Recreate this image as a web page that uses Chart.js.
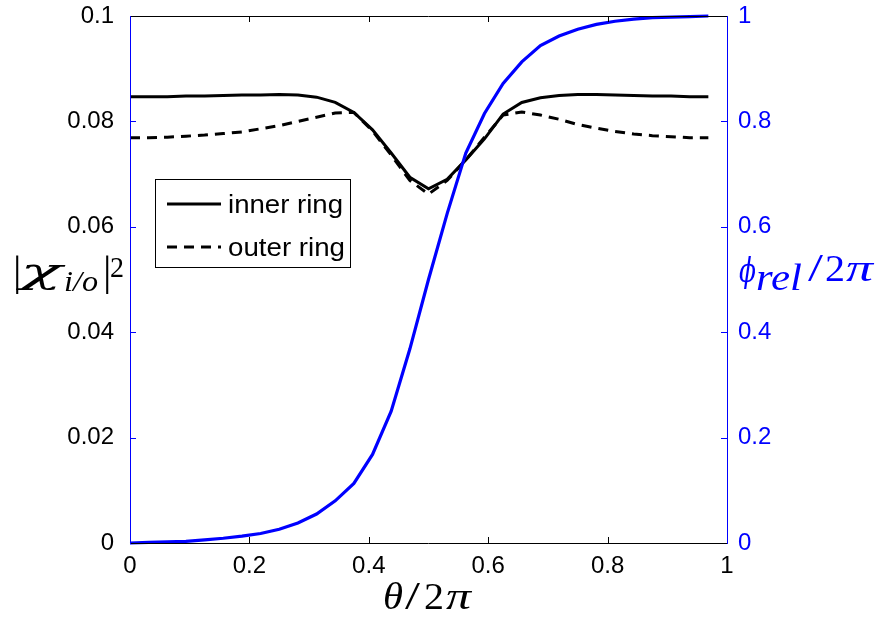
<!DOCTYPE html>
<html>
<head>
<meta charset="utf-8">
<script src="https://cdn.jsdelivr.net/npm/chart.js@4"></script>
<style>
  body { margin: 0; background: #fff; }
  canvas { display: block; }
</style>
</head>
<body>
<canvas id="myChart" width="881" height="622"></canvas>
<script>
// sample points along theta/2pi
const thetas = [0, 0.03125, 0.0625, 0.09375, 0.125, 0.15625, 0.1875, 0.21875,
  0.25, 0.28125, 0.3125, 0.34375, 0.375, 0.40625, 0.4375, 0.46875,
  0.5, 0.53125, 0.5625, 0.59375, 0.625, 0.65625, 0.6875, 0.71875,
  0.75, 0.78125, 0.8125, 0.84375, 0.875, 0.90625, 0.9375, 0.96875];

// |chi|^2, left axis
const innerRing = [0.0847, 0.0847, 0.0847, 0.0848, 0.0848, 0.0849, 0.0850, 0.0850,
  0.0851, 0.0850, 0.0846, 0.0836, 0.0817, 0.0784, 0.0740, 0.0694,
  0.0672, 0.0690, 0.0727, 0.0767, 0.0814, 0.0836, 0.0845, 0.0849,
  0.0851, 0.0851, 0.0850, 0.0849, 0.0848, 0.0848, 0.0847, 0.0847];
const outerRing = [0.0769, 0.0769, 0.0770, 0.0772, 0.0774, 0.0777, 0.0780, 0.0786,
  0.0792, 0.0800, 0.0808, 0.0816, 0.0817, 0.0782, 0.0736, 0.0688,
  0.0662, 0.0688, 0.0727, 0.0770, 0.0812, 0.0818, 0.0812, 0.0804,
  0.0794, 0.0787, 0.0781, 0.0776, 0.0773, 0.0771, 0.0769, 0.0769];

// phi_rel/2pi, right axis
const phiRel = [0.000, 0.001, 0.002, 0.003, 0.006, 0.009, 0.013, 0.018,
  0.026, 0.038, 0.055, 0.080, 0.113, 0.168, 0.250, 0.368,
  0.500, 0.625, 0.740, 0.815, 0.872, 0.913, 0.944, 0.962,
  0.975, 0.984, 0.990, 0.994, 0.997, 0.998, 0.999, 1.000];

const xTicks = [0, 0.2, 0.4, 0.6, 0.8, 1];
const leftTicks = [0, 0.02, 0.04, 0.06, 0.08, 0.1];
const rightTicks = [0, 0.2, 0.4, 0.6, 0.8, 1];
const seriesNames = ['inner ring', 'outer ring', 'phase'];

const BLUE = '#0000ff';
const SANS = '"Liberation Sans", Arial, sans-serif';
const SERIF = '"Liberation Serif", "DejaVu Serif", serif';
const DSERIF = '"DejaVu Serif", serif';
const tickFont = { family: SANS, size: 24 };

function pts(ys) {
  return thetas.map((t, i) => ({ x: t, y: ys[i] }));
}

// draw text at x, baseline y, optionally stretched to width w
function put(ctx, t, font, x, y, w) {
  ctx.font = font;
  const m = ctx.measureText(t).width;
  ctx.save();
  ctx.translate(x, y);
  if (w) ctx.scale(w / m, 1);
  ctx.fillText(t, 0, 0);
  ctx.restore();
}

// frame, inward ticks, legend and math titles
const decor = {
  id: 'decor',
  afterDraw(chart) {
    const ctx = chart.ctx;
    const a = chart.chartArea;
    const sx = chart.scales.x, sl = chart.scales.y, sr = chart.scales.y1;
    ctx.save();
    ctx.lineWidth = 1;

    // ticks
    ctx.strokeStyle = '#000';
    ctx.beginPath();
    xTicks.forEach(v => {
      const px = Math.round(sx.getPixelForValue(v)) + 0.5;
      ctx.moveTo(px, a.bottom); ctx.lineTo(px, a.bottom - 6);
      ctx.moveTo(px, a.top); ctx.lineTo(px, a.top + 6);
    });
    ctx.stroke();
    ctx.strokeStyle = BLUE;
    ctx.beginPath();
    leftTicks.forEach(v => {
      const py = Math.round(sl.getPixelForValue(v)) + 0.5;
      ctx.moveTo(a.left, py); ctx.lineTo(a.left + 6, py);
    });
    rightTicks.forEach(v => {
      const py = Math.round(sr.getPixelForValue(v)) + 0.5;
      ctx.moveTo(a.right, py); ctx.lineTo(a.right - 6, py);
    });
    ctx.stroke();

    // box
    ctx.strokeStyle = '#000';
    ctx.beginPath();
    ctx.moveTo(a.left, Math.round(a.top) + 0.5); ctx.lineTo(a.right, Math.round(a.top) + 0.5);
    ctx.moveTo(a.left, Math.round(a.bottom) + 0.5); ctx.lineTo(a.right, Math.round(a.bottom) + 0.5);
    ctx.stroke();
    ctx.strokeStyle = BLUE;
    ctx.beginPath();
    ctx.moveTo(Math.round(a.left) + 0.5, a.top); ctx.lineTo(Math.round(a.left) + 0.5, a.bottom + 1);
    ctx.moveTo(Math.round(a.right) + 0.5, a.top); ctx.lineTo(Math.round(a.right) + 0.5, a.bottom + 1);
    ctx.stroke();

    // legend
    const lx = 155.5, ly = 179.5, lw = 195, lh = 88;
    ctx.fillStyle = '#fff';
    ctx.fillRect(lx, ly, lw, lh);
    ctx.strokeStyle = '#000';
    ctx.lineWidth = 1;
    ctx.strokeRect(lx, ly, lw, lh);
    ctx.textBaseline = 'alphabetic';
    [0, 1].forEach(i => {
      const ds = chart.data.datasets[i];
      const cy = 204 + i * 43;
      ctx.strokeStyle = ds.borderColor;
      ctx.lineWidth = ds.borderWidth;
      ctx.setLineDash(ds.borderDash || []);
      ctx.beginPath();
      ctx.moveTo(167, cy); ctx.lineTo(221, cy);
      ctx.stroke();
      ctx.setLineDash([]);
      ctx.fillStyle = '#000';
      put(ctx, ds.label, '25px ' + SANS, 228, cy + 9, i === 0 ? 115 : 117);
    });

    // axis titles (pieces of math text)
    const it = s => 'italic ' + s + 'px ' + SERIF;
    const up = s => s + 'px ' + SERIF;
    const dit = s => 'italic ' + s + 'px ' + DSERIF;

    ctx.fillStyle = '#000';
    put(ctx, '|', up(42), 13, 285);
    put(ctx, 'χ', dit(36), 20, 283, 42);
    put(ctx, 'i/o', it(30), 64, 291, 34);
    put(ctx, '|', up(42), 103, 285);
    put(ctx, '2', up(29), 110, 277, 14);

    ctx.fillStyle = BLUE;
    put(ctx, 'ϕ', dit(34), 739, 282, 17);
    put(ctx, 'rel', it(37), 756, 290, 46);
    put(ctx, '/', up(40), 808, 281, 15);
    put(ctx, '2', up(38), 825, 281, 20);
    put(ctx, 'π', it(38), 846, 281, 27);

    ctx.fillStyle = '#000';
    put(ctx, 'θ', it(38), 383, 609, 20);
    put(ctx, '/', up(40), 405, 609, 15);
    put(ctx, '2', up(38), 424, 609, 20);
    put(ctx, 'π', it(38), 446, 609, 25);

    ctx.restore();
  }
};

window.onload = function () {
  createChart();
};

function createChart() {
  const ctx = document.getElementById('myChart').getContext('2d');
  new Chart(ctx, {
    type: 'line',
    data: {
      datasets: [{
        label: seriesNames[0],
        data: pts(innerRing),
        borderColor: '#000',
        borderWidth: 3,
        yAxisID: 'y',
        order: 2
      }, {
        label: seriesNames[1],
        data: pts(outerRing),
        borderColor: '#000',
        borderWidth: 3,
        borderDash: [10, 7],
        yAxisID: 'y',
        order: 3
      }, {
        label: seriesNames[2],
        data: pts(phiRel),
        borderColor: BLUE,
        borderWidth: 3.2,
        yAxisID: 'y1',
        order: 1
      }]
    },
    options: {
      responsive: false,
      animation: false,
      layout: { padding: { top: 16, left: 0, right: 0, bottom: 0 } },
      elements: {
        point: { radius: 0 },
        line: { tension: 0, fill: false, borderCapStyle: 'butt' }
      },
      datasets: { line: { clip: 4 } },
      plugins: { legend: { display: false }, tooltip: { enabled: false } },
      scales: {
        x: {
          type: 'linear', min: 0, max: 1,
          afterBuildTicks: s => { s.ticks = xTicks.map(v => ({ value: v })); },
          afterFit: s => { s.height = 79; s.paddingLeft = 0; s.paddingRight = 0; },
          grid: { display: false },
          border: { display: false },
          ticks: { color: '#000', font: tickFont, padding: 1, maxRotation: 0, callback: v => String(v) }
        },
        y: {
          position: 'left', min: 0, max: 0.1,
          afterBuildTicks: s => { s.ticks = leftTicks.map(v => ({ value: v })); },
          afterFit: s => { s.width = 130; s.paddingTop = 0; s.paddingBottom = 0; },
          grid: { display: false },
          border: { display: false },
          ticks: { color: '#000', font: tickFont, padding: 8, callback: v => String(v) }
        },
        y1: {
          position: 'right', min: 0, max: 1,
          afterBuildTicks: s => { s.ticks = rightTicks.map(v => ({ value: v })); },
          afterFit: s => { s.width = 154; s.paddingTop = 0; s.paddingBottom = 0; },
          grid: { display: false },
          border: { display: false },
          ticks: { color: BLUE, font: tickFont, padding: 3, callback: v => String(v) }
        }
      }
    },
    plugins: [decor]
  });
}
</script>
</body>
</html>
